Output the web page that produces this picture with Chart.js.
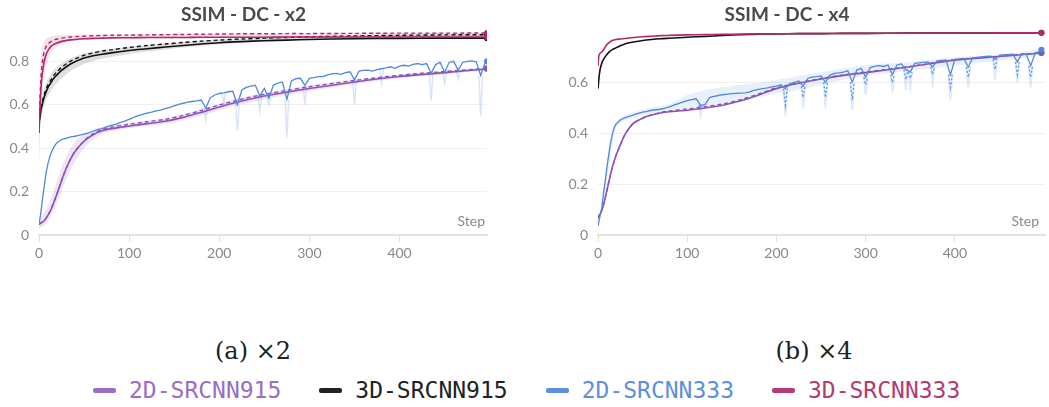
<!DOCTYPE html>
<html>
<head>
<meta charset="utf-8">
<script src="https://cdn.jsdelivr.net/npm/chart.js@4.4.1/dist/chart.umd.min.js"></script>
<style>
  html, body { margin: 0; padding: 0; background: #fff; overflow: hidden; }
  body { width: 1049px; height: 407px; position: relative; }
  .plot { position: absolute; top: 0; height: 270px; }
  #wrap2 { left: 0; width: 525px; }
  #wrap4 { left: 525px; width: 524px; }
  .caption { position: absolute; top: 337px; line-height: 28px; font-family: 'DejaVu Serif', serif; font-size: 24px; color: #222; transform: translateX(-50%); white-space: nowrap; }
  #legend { position: absolute; left: 93px; top: 376px; display: flex; gap: 38px; font-family: 'DejaVu Sans Mono', monospace; font-size: 23px; line-height: 28px; }
  .item { display: flex; align-items: center; gap: 13px; }
  .sw { width: 23px; height: 5px; border-radius: 2px; }
</style>
</head>
<body>
<div class="plot" id="wrap2"><canvas id="chart2"></canvas></div>
<div class="plot" id="wrap4"><canvas id="chart4"></canvas></div>
<div class="caption" style="left:253px">(a) ×2</div>
<div class="caption" style="left:814px">(b) ×4</div>
<div id="legend"></div>

<script>
// shared step grid for the smooth runs
const steps = [0, 1, 2, 3, 5, 7, 10, 13, 16, 20, 25, 30, 35, 40, 50, 60, 70, 80, 100, 120, 140, 160, 180, 200, 225, 250, 275, 300, 350, 400, 450, 497];

// finer grid for the noisy 2D-SRCNN333 runs
const blueSteps = [0, 2, 4, 6, 8, 10, 12, 14, 16, 18, 20,
  25, 30, 35, 40, 45, 50, 55, 60, 65, 70, 75, 80, 85, 90, 95, 100, 105, 110, 115, 120,
  125, 130, 135, 140, 145, 150, 155, 160, 165, 170, 175, 180, 185, 190, 195, 200, 205, 210, 215, 220,
  225, 230, 235, 240, 245, 250, 255, 260, 265, 270, 275, 280, 285, 290, 295, 300, 305, 310, 315, 320,
  325, 330, 335, 340, 345, 350, 355, 360, 365, 370, 375, 380, 385, 390, 395, 400, 405, 410, 415, 420,
  425, 430, 435, 440, 445, 450, 455, 460, 465, 470, 475, 480, 485, 490, 495, 497];

const xTicks = [0, 100, 200, 300, 400];
const yTicks2 = [0, 0.2, 0.4, 0.6, 0.8];
const yTicks4 = [0, 0.2, 0.4, 0.6];

const runNames = ['2D-SRCNN915', '3D-SRCNN915', '2D-SRCNN333', '3D-SRCNN333'];
const runColors = ['#8c52b8', '#111111', '#5088dc', '#b3286a'];
const legendColors = ['#9a6dc9', '#222222', '#5c8fe0', '#b33b73'];

// ---- x2 ----
const pink2 = [0.47, 0.58, 0.66, 0.72, 0.78, 0.82, 0.85, 0.868, 0.877, 0.885, 0.892, 0.896, 0.899, 0.901, 0.904, 0.906, 0.907, 0.908, 0.909, 0.91, 0.91, 0.91, 0.911, 0.911, 0.911, 0.911, 0.912, 0.912, 0.912, 0.912, 0.912, 0.912];
const pink2Dash = [0.47, 0.62, 0.71, 0.77, 0.83, 0.86, 0.88, 0.89, 0.897, 0.903, 0.907, 0.91, 0.912, 0.914, 0.916, 0.918, 0.919, 0.92, 0.921, 0.922, 0.923, 0.924, 0.925, 0.926, 0.927, 0.927, 0.928, 0.928, 0.929, 0.93, 0.93, 0.931];
const pink2Hi = [0.5, 0.72, 0.8, 0.85, 0.88, 0.9, 0.91, 0.915, 0.918, 0.92, 0.921, 0.922, 0.922, 0.923, 0.923, 0.924, 0.924, 0.924, 0.925, 0.925, 0.926, 0.926, 0.927, 0.927, 0.928, 0.928, 0.929, 0.929, 0.93, 0.931, 0.931, 0.932];
const pink2Lo = [0.3, 0.45, 0.55, 0.62, 0.7, 0.76, 0.81, 0.84, 0.855, 0.868, 0.88, 0.887, 0.892, 0.895, 0.9, 0.902, 0.903, 0.904, 0.905, 0.906, 0.906, 0.906, 0.907, 0.907, 0.907, 0.907, 0.908, 0.908, 0.908, 0.908, 0.908, 0.908];

const black2 = [0.52, 0.54, 0.57, 0.59, 0.625, 0.65, 0.68, 0.7, 0.72, 0.738, 0.758, 0.774, 0.788, 0.798, 0.815, 0.826, 0.833, 0.839, 0.85, 0.858, 0.866, 0.873, 0.88, 0.886, 0.891, 0.895, 0.898, 0.901, 0.904, 0.906, 0.907, 0.907];
const black2Dash = [0.52, 0.55, 0.58, 0.6, 0.635, 0.662, 0.692, 0.713, 0.733, 0.752, 0.772, 0.788, 0.801, 0.811, 0.828, 0.839, 0.847, 0.853, 0.864, 0.873, 0.88, 0.887, 0.893, 0.898, 0.903, 0.907, 0.91, 0.913, 0.917, 0.92, 0.922, 0.923];
const black2Hi = [0.55, 0.58, 0.61, 0.63, 0.665, 0.69, 0.72, 0.74, 0.758, 0.775, 0.79, 0.803, 0.814, 0.822, 0.836, 0.845, 0.852, 0.857, 0.867, 0.875, 0.882, 0.888, 0.894, 0.899, 0.904, 0.908, 0.911, 0.914, 0.918, 0.921, 0.923, 0.924];
const black2Lo = [0.47, 0.5, 0.53, 0.55, 0.585, 0.61, 0.64, 0.662, 0.682, 0.7, 0.722, 0.74, 0.756, 0.768, 0.788, 0.802, 0.812, 0.82, 0.834, 0.845, 0.855, 0.864, 0.872, 0.879, 0.886, 0.891, 0.895, 0.899, 0.903, 0.905, 0.906, 0.906];

const purple2 = [0.05, 0.052, 0.055, 0.058, 0.063, 0.072, 0.092, 0.115, 0.145, 0.19, 0.25, 0.305, 0.35, 0.385, 0.432, 0.462, 0.48, 0.49, 0.502, 0.513, 0.524, 0.542, 0.565, 0.59, 0.617, 0.64, 0.658, 0.675, 0.705, 0.73, 0.748, 0.765];
const purple2Dash = [0.05, 0.052, 0.055, 0.058, 0.063, 0.072, 0.092, 0.115, 0.145, 0.19, 0.25, 0.305, 0.35, 0.386, 0.434, 0.466, 0.486, 0.497, 0.51, 0.522, 0.533, 0.551, 0.574, 0.599, 0.626, 0.648, 0.666, 0.683, 0.712, 0.736, 0.753, 0.768];
const purple2Hi = [0.07, 0.075, 0.08, 0.085, 0.095, 0.11, 0.135, 0.165, 0.2, 0.25, 0.31, 0.36, 0.4, 0.43, 0.465, 0.485, 0.497, 0.505, 0.515, 0.526, 0.538, 0.556, 0.58, 0.605, 0.632, 0.654, 0.671, 0.688, 0.716, 0.74, 0.757, 0.772];
const purple2Lo = [0.03, 0.032, 0.035, 0.038, 0.042, 0.05, 0.065, 0.085, 0.11, 0.15, 0.2, 0.255, 0.3, 0.34, 0.4, 0.44, 0.465, 0.478, 0.492, 0.502, 0.512, 0.528, 0.55, 0.575, 0.603, 0.626, 0.645, 0.663, 0.695, 0.722, 0.741, 0.758];

const blue2 = [0.05, 0.10, 0.17, 0.23, 0.29, 0.33, 0.36, 0.385, 0.40, 0.415, 0.425,
  0.44, 0.445, 0.452, 0.455, 0.46, 0.465, 0.47, 0.478, 0.485, 0.49,
  0.498, 0.505, 0.51, 0.518, 0.525, 0.533, 0.542, 0.55, 0.556, 0.562,
  0.566, 0.572, 0.575, 0.582, 0.588, 0.595, 0.602, 0.607, 0.612, 0.615,
  0.618, 0.622, 0.585, 0.632, 0.645, 0.652, 0.655, 0.66, 0.662, 0.60,
  0.668, 0.68, 0.686, 0.69, 0.64, 0.675, 0.63, 0.69, 0.70, 0.705,
  0.625, 0.71, 0.72, 0.722, 0.69, 0.722, 0.725, 0.73, 0.73, 0.738,
  0.742, 0.745, 0.74, 0.748, 0.752, 0.715, 0.755, 0.758, 0.76, 0.755,
  0.762, 0.766, 0.77, 0.775, 0.768, 0.778, 0.782, 0.778, 0.786, 0.79,
  0.785, 0.79, 0.745, 0.785, 0.795, 0.75, 0.795, 0.8, 0.76, 0.795,
  0.8, 0.802, 0.798, 0.735, 0.795, 0.8];
const spikeSteps2 = [120, 185, 205, 220, 245, 255, 275, 295, 350, 380, 435, 450, 465, 490];
const spikeLows2 = [0.56, 0.53, 0.6, 0.48, 0.57, 0.6, 0.45, 0.6, 0.6, 0.7, 0.62, 0.7, 0.72, 0.55];

// ---- x4 ----
const pink4 = [0.663, 0.705, 0.712, 0.716, 0.722, 0.732, 0.748, 0.758, 0.764, 0.768, 0.77, 0.772, 0.774, 0.776, 0.779, 0.781, 0.783, 0.784, 0.786, 0.787, 0.788, 0.789, 0.79, 0.79, 0.791, 0.791, 0.792, 0.792, 0.793, 0.793, 0.794, 0.794];
const black4 = [0.575, 0.615, 0.643, 0.66, 0.682, 0.695, 0.709, 0.72, 0.728, 0.735, 0.743, 0.75, 0.755, 0.758, 0.764, 0.768, 0.771, 0.773, 0.777, 0.78, 0.784, 0.787, 0.789, 0.79, 0.791, 0.791, 0.792, 0.792, 0.793, 0.793, 0.794, 0.794];
const purple4 = [0.066, 0.075, 0.08, 0.087, 0.105, 0.13, 0.175, 0.222, 0.265, 0.31, 0.354, 0.393, 0.42, 0.44, 0.459, 0.471, 0.479, 0.484, 0.49, 0.499, 0.51, 0.527, 0.55, 0.575, 0.596, 0.613, 0.627, 0.638, 0.661, 0.687, 0.701, 0.715];
const purple4Dash = [0.066, 0.075, 0.08, 0.087, 0.105, 0.13, 0.175, 0.222, 0.265, 0.31, 0.354, 0.393, 0.42, 0.44, 0.459, 0.472, 0.481, 0.487, 0.495, 0.504, 0.515, 0.532, 0.554, 0.578, 0.598, 0.615, 0.629, 0.64, 0.662, 0.688, 0.702, 0.716];
const blue4Hi = [0.04, 0.06, 0.08, 0.1, 0.15, 0.2, 0.28, 0.35, 0.41, 0.445, 0.462, 0.47, 0.476, 0.482, 0.492, 0.5, 0.506, 0.515, 0.55, 0.57, 0.58, 0.59, 0.598, 0.61, 0.625, 0.64, 0.655, 0.668, 0.68, 0.697, 0.71, 0.73];
const blue4Lo = [0.03, 0.045, 0.06, 0.075, 0.09, 0.12, 0.22, 0.28, 0.36, 0.42, 0.44, 0.45, 0.455, 0.46, 0.47, 0.478, 0.483, 0.49, 0.5, 0.505, 0.515, 0.525, 0.54, 0.555, 0.57, 0.59, 0.61, 0.625, 0.645, 0.665, 0.685, 0.705];

const blue4 = [0.035, 0.07, 0.10, 0.16, 0.21, 0.265, 0.315, 0.36, 0.395, 0.42, 0.435,
  0.452, 0.46, 0.466, 0.472, 0.478, 0.483, 0.486, 0.49, 0.492, 0.494,
  0.498, 0.503, 0.51, 0.516, 0.522, 0.528, 0.532, 0.535, 0.51, 0.512,
  0.54, 0.545, 0.548, 0.551, 0.553, 0.555, 0.556, 0.557, 0.558, 0.562,
  0.568, 0.572, 0.575, 0.578, 0.582, 0.585, 0.59, 0.575, 0.595, 0.60,
  0.605, 0.585, 0.615, 0.62, 0.622, 0.625, 0.6, 0.628, 0.635, 0.637,
  0.64, 0.645, 0.6, 0.648, 0.655, 0.62, 0.658, 0.662, 0.665, 0.662,
  0.668, 0.63, 0.668, 0.672, 0.65, 0.64, 0.674, 0.676, 0.678, 0.68,
  0.66, 0.684, 0.686, 0.688, 0.63, 0.69, 0.692, 0.694, 0.66, 0.696,
  0.698, 0.7, 0.702, 0.703, 0.69, 0.706, 0.708, 0.708, 0.71, 0.68,
  0.712, 0.71, 0.665, 0.715, 0.72, 0.728];
const dipSteps4 = [115, 210, 230, 255, 285, 300, 330, 345, 350, 375, 395, 415, 445, 470, 485];
const dipLows4 = [0.5, 0.51, 0.54, 0.54, 0.53, 0.59, 0.6, 0.61, 0.615, 0.63, 0.58, 0.62, 0.65, 0.63, 0.62];
const bandLows4 = [0.47, 0.47, 0.5, 0.5, 0.49, 0.55, 0.56, 0.57, 0.58, 0.6, 0.53, 0.58, 0.61, 0.6, 0.58];

function pts(xs, ys) {
  return xs.map((x, i) => ({ x, y: ys[i] }));
}

// narrow V-shaped drops hanging off a noisy line
function spikes(xs, ys, at, lows) {
  const out = [];
  at.forEach((s, i) => {
    const top = ys[xs.indexOf(s)];
    out.push({ x: s - 2, y: top }, { x: s, y: lows[i] }, { x: s + 2, y: top }, { x: s + 2.5, y: null });
  });
  return out;
}

const endDot = ctx => (ctx.dataIndex === ctx.dataset.data.length - 1 ? 3 : 0);

function line(data, color, opts = {}) {
  return Object.assign({
    data,
    borderColor: color,
    backgroundColor: color,
    borderWidth: 1.6,
    pointRadius: endDot,
    pointBorderWidth: 0,
    tension: 0.3,
    fill: false,
  }, opts);
}

function band(hi, lo, color) {
  return [
    { data: pts(steps, hi), borderWidth: 0, pointRadius: 0, fill: '+1', backgroundColor: color, tension: 0.3, order: 10 },
    { data: pts(steps, lo), borderWidth: 0, pointRadius: 0, fill: false, tension: 0.3, order: 10 },
  ];
}

const stepLabel = {
  id: 'stepLabel',
  afterDraw(chart) {
    const { ctx, chartArea } = chart;
    ctx.save();
    ctx.font = '14px Lato';
    ctx.fillStyle = '#888';
    ctx.textAlign = 'right';
    ctx.fillText('Step', chartArea.right - chart.options.stepInset, chartArea.bottom - 9);
    ctx.restore();
  },
};

function makeChart(id, title, datasets, yMax, xMax, yTicks, axisWidth, rightPad, stepInset) {
  return new Chart(document.getElementById(id), {
    type: 'line',
    data: { datasets },
    plugins: [stepLabel],
    options: {
      responsive: true,
      maintainAspectRatio: false,
      animation: false,
      stepInset,
      layout: { padding: { left: 0, right: rightPad, top: 0, bottom: 0 } },
      plugins: {
        legend: { display: false },
        tooltip: { enabled: false },
        title: {
          display: true,
          text: title,
          color: '#4a4a4a',
          font: { family: 'Lato', size: 19, weight: 'bold', lineHeight: 1.2 },
          padding: { top: 3, bottom: 3 },
        },
      },
      scales: {
        x: {
          type: 'linear',
          min: 0,
          max: xMax,
          afterBuildTicks: axis => { axis.ticks = xTicks.map(v => ({ value: v })); },
          afterFit: scale => { scale.height = 35; },
          border: { display: true, color: '#e2e2e2', width: 2 },
          grid: { drawOnChartArea: false, drawTicks: true, tickLength: 7, color: '#e2e2e2' },
          ticks: { color: '#888', padding: 3, maxRotation: 0, font: { family: 'Lato', size: 14 } },
        },
        y: {
          min: 0,
          max: yMax,
          afterBuildTicks: axis => { axis.ticks = yTicks.map(v => ({ value: v })); },
          afterFit: scale => { scale.width = axisWidth; },
          border: { display: false },
          grid: { drawTicks: false, color: '#f0f0f0' },
          ticks: { color: '#888', padding: 10, font: { family: 'Lato', size: 14 }, callback: v => String(v) },
        },
      },
    },
  });
}

const dash = [4, 3];

makeChart('chart2', 'SSIM - DC - x2', [
  line(pts(steps, pink2Dash), runColors[3], { borderDash: dash, borderWidth: 1.4 }),
  line(pts(steps, pink2), runColors[3]),
  line(pts(steps, black2Dash), runColors[1], { borderDash: dash, borderWidth: 1.4 }),
  line(pts(steps, black2), runColors[1]),
  line(pts(blueSteps, blue2), runColors[2], { borderWidth: 1.3, tension: 0 }),
  line(pts(steps, purple2Dash), runColors[0], { borderDash: dash, borderWidth: 1.4 }),
  line(pts(steps, purple2), runColors[0]),
  line(spikes(blueSteps, blue2, spikeSteps2, spikeLows2), 'rgba(80,136,220,0.22)', { pointRadius: 0, tension: 0, borderWidth: 1.5, order: 5 }),
  ...band(pink2Hi, pink2Lo, 'rgba(179,40,106,0.14)'),
  ...band(black2Hi, black2Lo, 'rgba(0,0,0,0.13)'),
  ...band(purple2Hi, purple2Lo, 'rgba(140,82,184,0.15)'),
], 0.95, 497, yTicks2, 39, 38, 2);

makeChart('chart4', 'SSIM - DC - x4', [
  line(pts(steps, pink4), runColors[3]),
  line(pts(steps, black4), runColors[1]),
  line(pts(blueSteps, blue4), runColors[2], { borderWidth: 1.3, tension: 0 }),
  line(spikes(blueSteps, blue4, dipSteps4, dipLows4), 'rgba(80,136,220,0.85)', { pointRadius: 0, tension: 0, borderWidth: 1.3, borderDash: [2, 2] }),
  line(pts(steps, purple4Dash), runColors[0], { borderDash: dash, borderWidth: 1.4 }),
  line(pts(steps, purple4), runColors[0]),
  line(spikes(blueSteps, blue4, dipSteps4, bandLows4), 'rgba(80,136,220,0.18)', { pointRadius: 0, tension: 0, borderWidth: 2, order: 5 }),
  ...band(blue4Hi, blue4Lo, 'rgba(80,136,220,0.13)'),
], 0.81, 501, yTicks4, 73, 0, 6);

// shared legend under both panels
const legendEl = document.getElementById('legend');
runNames.forEach((name, i) => {
  const item = document.createElement('div');
  item.className = 'item';
  item.innerHTML = `<span class="sw" style="background:${legendColors[i]}"></span><span style="color:${legendColors[i]}">${name}</span>`;
  legendEl.appendChild(item);
});
</script>
</body>
</html>
